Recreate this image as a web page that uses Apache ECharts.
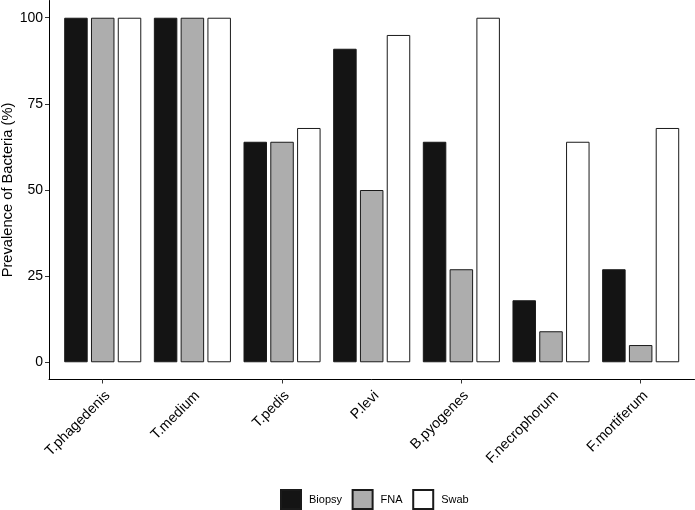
<!DOCTYPE html>
<html>
<head>
<meta charset="utf-8">
<script src="https://cdn.jsdelivr.net/npm/echarts@6/dist/echarts.min.js"></script>
<style>html,body{margin:0;padding:0;background:#fff;}#c{width:695px;height:510px;}</style>
</head>
<body>
<div id="c"></div>
<script>
const categories = ['T.phagedenis','T.medium','T.pedis','P.levi','B.pyogenes','F.necrophorum','F.mortiferum'];
const seriesNames = ['Biopsy','FNA','Swab'];
const biopsy = [100,100,64,91,64,18,27];
const fna = [100,100,64,50,27,9,5];
const swab = [100,100,68,95,100,64,68];
const yTicks = [0,25,50,75,100];
const yTitle = 'Prevalence of Bacteria (%)';

const FONT = '"Liberation Sans", Arial, sans-serif';
const fills = ['#141414','#adadad','#ffffff'];
const values = [biopsy, fna, swab];

const chart = echarts.init(document.getElementById('c'), null, {renderer:'canvas'});
const gTop = 0.5, gBottom = 130.5;
const gridBase = {top:gTop, bottom:gBottom, containLabel:false, outerBoundsMode:'none'};
chart.setOption({
  animation:false,
  backgroundColor:'#fff',
  textStyle:{fontFamily:FONT},
  grid:[
    Object.assign({left:49, right:0.5}, gridBase),
    Object.assign({left:57.9, right:9.5}, gridBase),
    Object.assign({left:62.9, right:4.5}, gridBase)
  ],
  xAxis:[
    {gridIndex:0, type:'value', min:0, max:1,
     axisLine:{show:true, onZero:false, lineStyle:{color:'#000', width:1}},
     axisTick:{show:false}, axisLabel:{show:false}, splitLine:{show:false}},
    {gridIndex:1, type:'category', data:categories,
     axisLine:{show:false, onZero:false},
     axisTick:{show:true, alignWithLabel:true, length:4, lineStyle:{color:'#333', width:1}},
     axisLabel:{show:false}, splitLine:{show:false}},
    {gridIndex:2, type:'category', data:categories,
     axisLine:{show:false, onZero:false}, axisTick:{show:false},
     axisLabel:{show:true, rotate:45, margin:14, fontSize:14.3, color:'#000', fontFamily:FONT, interval:0},
     splitLine:{show:false}}
  ],
  yAxis:[
    {gridIndex:0, type:'value', min:-5, max:105,
     axisLine:{show:true, onZero:false, lineStyle:{color:'#000', width:1}},
     axisTick:{show:true, length:4, customValues:yTicks, lineStyle:{color:'#333', width:1}},
     axisLabel:{show:true, customValues:yTicks, margin:6, fontSize:14, color:'#000', fontFamily:FONT},
     splitLine:{show:false},
     name:yTitle, nameLocation:'middle', nameGap:34, nameMoveOverlap:false,
     nameTextStyle:{fontSize:14.7, color:'#000', fontFamily:FONT}},
    {gridIndex:1, type:'value', min:-5, max:105, show:false, splitLine:{show:false}},
    {gridIndex:2, type:'value', min:-5, max:105, show:false, splitLine:{show:false}}
  ],
  legend:{
    left:280, top:489, orient:'horizontal', padding:0,
    itemWidth:20, itemHeight:19, itemGap:9.6,
    icon:'rect',
    textStyle:{fontSize:11, color:'#000', fontFamily:FONT, padding:[0,0,0,3]},
    data:seriesNames
  },
  series: seriesNames.map((n,i)=>({
    name:n, type:'bar', xAxisIndex:1, yAxisIndex:1,
    data:values[i], barWidth:23.5, barGap:'14%',
    itemStyle:{color:fills[i], borderColor:'#1a1a1a', borderWidth:1}
  }))
});
</script>
</body>
</html>
